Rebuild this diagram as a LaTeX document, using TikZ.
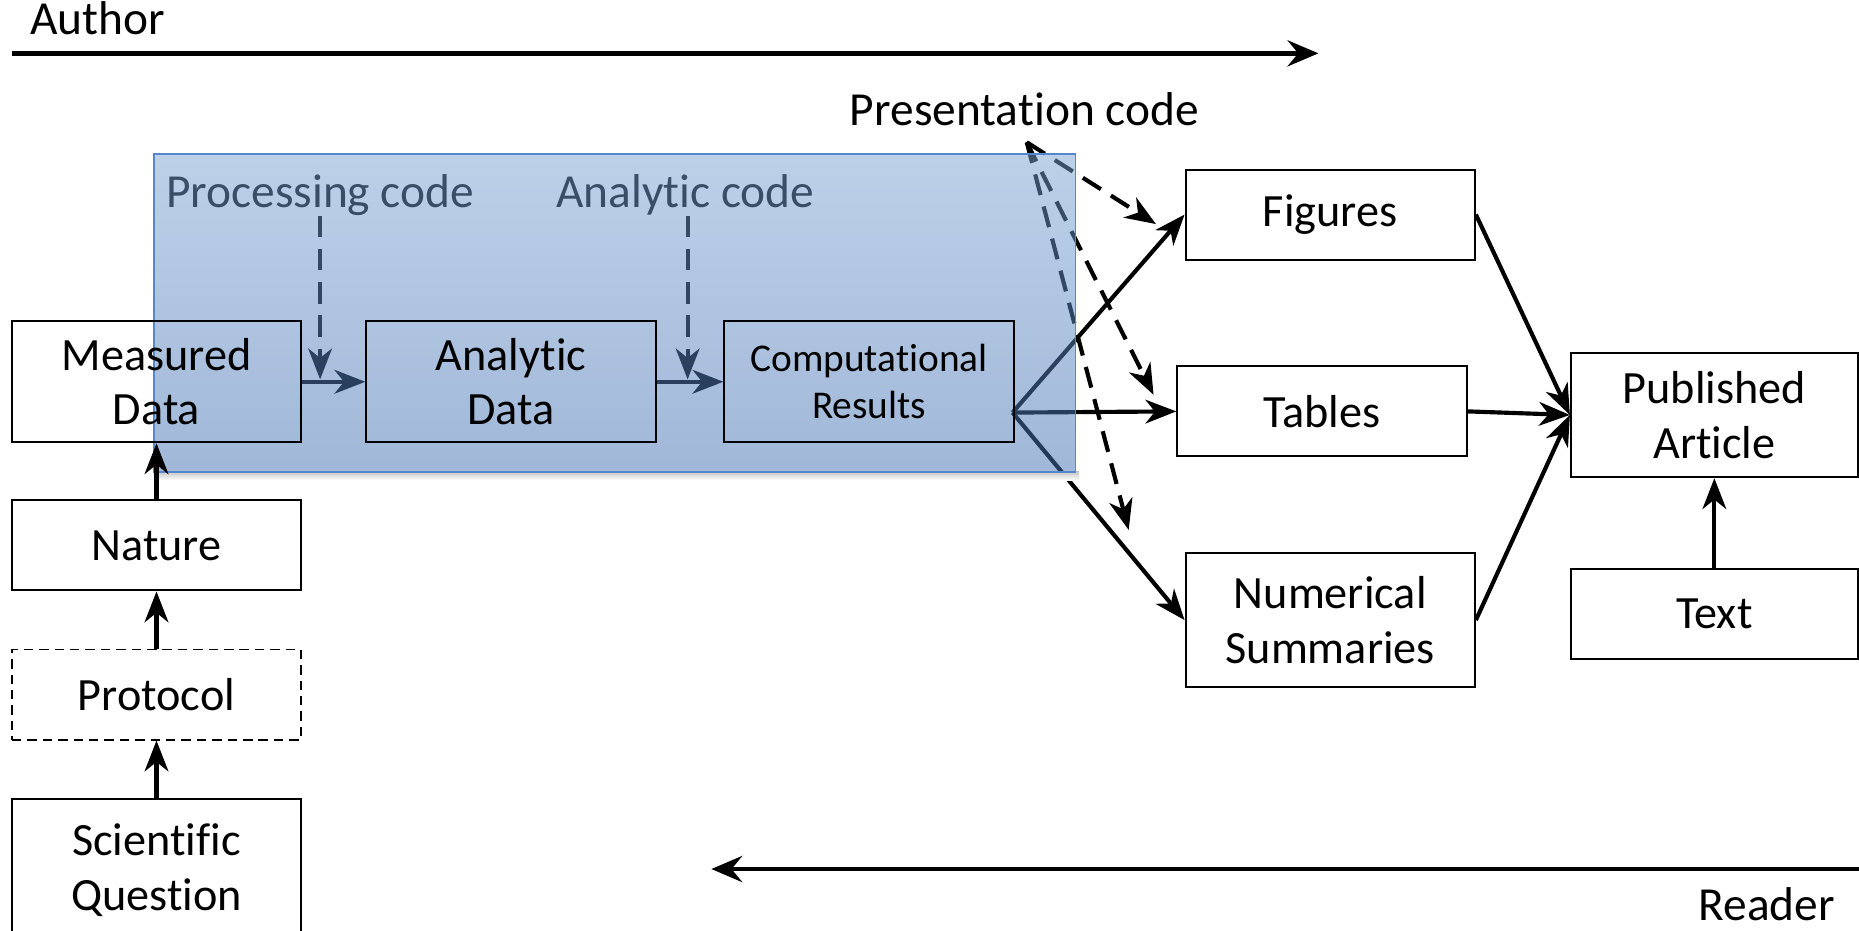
\documentclass[tikz,border=0pt]{standalone}
\usepackage{fontspec}
\setmainfont{Carlito}[Ligatures=NoCommon]
\usetikzlibrary{arrows.meta}
\pgfdeclarelayer{bg}
\pgfsetlayers{bg,main}
\definecolor{ovtop}{rgb}{0.48,0.64,0.82}
\definecolor{ovbot}{rgb}{0.26,0.44,0.70}
\definecolor{ovedge}{rgb}{0.33,0.53,0.80}
\begin{document}
\begin{tikzpicture}[x=0.5pt,y=-0.5pt,
  box/.style={draw, line width=0.85pt, minimum width=122pt, inner sep=0pt, align=center,
    font=\fontsize{19.5}{23}\selectfont},
  conn/.style={line width=1.75pt, -{Stealth[length=13pt,width=10pt,inset=4pt]}},
  dconn/.style={conn, dash pattern=on 9pt off 5pt},
  bigarrow/.style={line width=2pt, -{Stealth[length=13pt,width=11pt,inset=4.5pt]}},
  lab/.style={inner sep=0pt, font=\fontsize{20}{24}\selectfont}]
\useasboundingbox (0,0) rectangle (1568,785);

% boxes
\node[box, minimum height=51pt] (meas) at (132,322) {Measured\\Data};
\node[box, minimum height=51pt] (anal) at (431,322) {Analytic\\Data};
\node[box, minimum height=51pt, font=\fontsize{16.6}{20}\selectfont] (comp) at (733,322) {Computational\\Results};
\node[box, minimum height=38pt] (nature) at (132,460) {Nature};
\node[box, minimum height=38pt, line width=0.6pt, dash pattern=on 4pt off 2.5pt] (proto) at (132,586) {Protocol};
\node[box, minimum height=60pt, anchor=north] (quest) at (132,673) {Scientific\\Question};
\node[box, minimum height=38pt] (fig) at (1122,181) {Figures};
\node[box, minimum height=38pt] (tab) at (1115,347) {Tables};
\node[box, minimum height=56.5pt] (num) at (1122,523) {Numerical\\Summaries};
\node[box, minimum height=52.5pt, minimum width=121pt] (pub) at (1446,350) {Published\\Article};
\node[box, minimum height=38pt, minimum width=121pt] (txt) at (1446,518) {Text};

% labels
\node[lab, anchor=base west] (author) at (25,29) {Author};
\node[lab, anchor=base] (prescode) at (864,106) {Presentation code};
\node[lab, anchor=base east] (reader) at (1548,776) {Reader};

% free ends
\coordinate (a1) at (10,45);
\coordinate (a2) at (1112,45);
\coordinate (r1) at (1570,733);
\coordinate (r2) at (600,733);
\coordinate (pc1) at (270,182);
\coordinate (pc2) at (270,320);
\coordinate (ac1) at (580,182);
\coordinate (ac2) at (580,320);
\coordinate (cr) at (854,348);
\coordinate (ps) at (866,120);
\coordinate (pe1) at (975,189);
\coordinate (pe2) at (973,333);
\coordinate (pe3) at (952,447);

\draw[bigarrow] (a1) -- (a2);
\draw[bigarrow] (r1) -- (r2);

\draw[conn] (nature) -- (meas);
\draw[conn] (proto) -- (nature);
\draw[conn] (quest) -- (proto);
\draw[conn] (fig.east) -- (pub.west);
\draw[conn] (tab.east) -- (pub.west);
\draw[conn] (num.east) -- (pub.west);
\draw[conn] (txt) -- (pub);

\begin{pgfonlayer}{bg}
  \node[lab, anchor=base] (proccode) at (270,175) {Processing code};
  \node[lab, anchor=base] (analcode) at (578,175) {Analytic code};
  \draw[conn] (meas.east) -- (anal.west);
  \draw[conn] (anal.east) -- (comp.west);
  \draw[dconn] (pc1) -- (pc2);
  \draw[dconn] (ac1) -- (ac2);
  \draw[conn] (cr) -- (fig.west);
  \draw[conn] (cr) -- (tab.west);
  \draw[conn] (cr) -- (num.west);
  \draw[dconn] (ps) -- (pe1);
  \draw[dconn] (ps) -- (pe2);
  \draw[dconn] (ps) -- (pe3);
  % shadow and translucent panel
  \shade[top color=black!22, bottom color=white] (133,398) rectangle (910,405);
  \shade[top color=ovtop, bottom color=ovbot, fill opacity=0.5] (130,130) rectangle (907,398);
  \draw[ovedge, line width=0.7pt] (130,130) rectangle (907,398);
\end{pgfonlayer}
\end{tikzpicture}
\end{document}
